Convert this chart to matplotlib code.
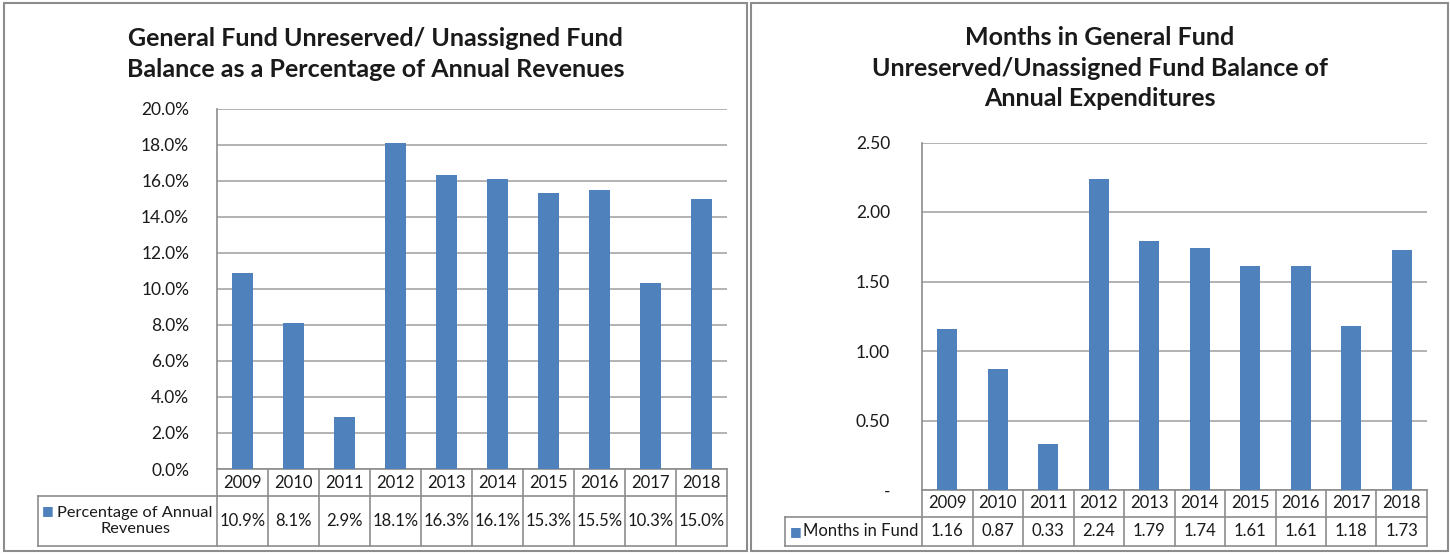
import matplotlib.pyplot as plt
import matplotlib.transforms as mtrans
from matplotlib.patches import Rectangle

years = ['2009', '2010', '2011', '2012', '2013', '2014', '2015', '2016', '2017', '2018']
pct_revenues = [10.9, 8.1, 2.9, 18.1, 16.3, 16.1, 15.3, 15.5, 10.3, 15.0]
months_in_fund = [1.16, 0.87, 0.33, 2.24, 1.79, 1.74, 1.61, 1.61, 1.18, 1.73]

BLUE = '#4f81bd'
GRID = '#a6a6a6'
EDGE = '#8c8c8c'
TXT = '#1a1a1a'
FONT = ['Lato', 'DejaVu Sans']

W, H = 1450, 554
plt.rcParams['font.family'] = FONT

fig = plt.figure(figsize=(W / 100, H / 100), dpi=100)


def px_axes(left, top, right, bottom):
    return fig.add_axes([left / W, 1 - bottom / H, (right - left) / W, (bottom - top) / H])


def draw_table(ax, labels, values, leg_left, ax_left, hdr_h, row_h, ax_h):
    tr = mtrans.blended_transform_factory(ax.transData, ax.transAxes)
    h1 = hdr_h / ax_h
    h2 = row_h / ax_h
    n = len(labels)
    unit = (ax.get_xlim()[1] - ax.get_xlim()[0]) / ax.get_position().width / W
    x_leg = -0.5 - (ax_left - leg_left) * unit
    kw = dict(transform=tr, clip_on=False, color=EDGE, lw=1.2)
    # grid lines of the data table
    ax.plot([-0.5, n - 0.5], [0, 0], **kw)
    ax.plot([x_leg, n - 0.5], [-h1, -h1], **kw)
    ax.plot([x_leg, n - 0.5], [-h1 - h2, -h1 - h2], **kw)
    for i in range(n + 1):
        ax.plot([i - 0.5, i - 0.5], [0, -h1 - h2], **kw)
    ax.plot([x_leg, x_leg], [-h1, -h1 - h2], **kw)
    for i, (lab, val) in enumerate(zip(labels, values)):
        ax.text(i, -h1 / 2, lab, transform=tr, ha='center', va='center', fontsize=12, color=TXT)
        ax.text(i, -h1 - h2 / 2, val, transform=tr, ha='center', va='center', fontsize=12, color=TXT)
    return tr, x_leg, h1, h2, unit


# ---------------- left chart ----------------
ax1 = px_axes(217, 108.7, 727, 469)
ax1.bar(range(len(years)), pct_revenues, width=0.4, color=BLUE, zorder=3)
ax1.set_xlim(-0.5, len(years) - 0.5)
ax1.set_ylim(0, 20)
ax1.set_yticks(range(0, 21, 2))
ax1.set_yticklabels([f'{v:.1f}%' for v in range(0, 21, 2)])
ax1.yaxis.grid(True, color=GRID, lw=1.2)
ax1.set_xticks([])
for s in ['top', 'right', 'bottom']:
    ax1.spines[s].set_visible(False)
ax1.spines['left'].set_color(EDGE)
ax1.spines['left'].set_linewidth(1.2)
ax1.tick_params(axis='y', length=0, pad=20, labelsize=12.5, labelcolor=TXT)
tr, xl, h1, h2, u1 = draw_table(ax1, years, [f'{v:.1f}%' for v in pct_revenues],
                                38, 217, 27, 50, 469 - 108.7)
ax1.text(xl + 97 * u1, -h1 - h2 / 2, 'Percentage of Annual\nRevenues', transform=tr,
         ha='center', va='center', fontsize=11.8, color=TXT, linespacing=1.2)
ax1.text(xl + 4 * u1, -h1 - h2 * 0.3, '■', transform=tr, ha='left', va='center',
         fontsize=9, color=BLUE, family='DejaVu Sans')

fig.text(375.5 / W, 1 - 54 / H, 'General Fund Unreserved/ Unassigned Fund\nBalance as a Percentage of Annual Revenues',
         ha='center', va='center', fontsize=18, fontweight='bold', color=TXT, linespacing=1.42)

# ---------------- right chart ----------------
ax2 = px_axes(922, 142.5, 1427, 490)
ax2.bar(range(len(years)), months_in_fund, width=0.4, color=BLUE, zorder=3)
ax2.set_xlim(-0.5, len(years) - 0.5)
ax2.set_ylim(0, 2.5)
ticks2 = [0, 0.5, 1.0, 1.5, 2.0, 2.5]
ax2.set_yticks(ticks2)
ax2.set_yticklabels(['-' if t == 0 else f'{t:.2f}' for t in ticks2])
ax2.yaxis.grid(True, color=GRID, lw=1.2)
ax2.set_xticks([])
for s in ['top', 'right', 'bottom']:
    ax2.spines[s].set_visible(False)
ax2.spines['left'].set_color(EDGE)
ax2.spines['left'].set_linewidth(1.2)
ax2.tick_params(axis='y', length=0, pad=23, labelsize=12.5, labelcolor=TXT)
tr2, xl2, g1, g2, u2 = draw_table(ax2, years, [f'{v:.2f}' for v in months_in_fund],
                                  785, 922, 27, 29, 490 - 142.5)
ax2.text(xl2 + 5 * u2, -g1 - g2 / 2, '■', transform=tr2, ha='left', va='center',
         fontsize=9, color=BLUE, family='DejaVu Sans')
ax2.text(xl2 + 18 * u2, -g1 - g2 / 2, 'Months in Fund', transform=tr2, ha='left', va='center',
         fontsize=12, color=TXT)

fig.text(1099.5 / W, 1 - 68 / H, 'Months in General Fund\nUnreserved/Unassigned Fund Balance of\nAnnual Expenditures',
         ha='center', va='center', fontsize=18, fontweight='bold', color=TXT, linespacing=1.42)

# panel borders
for x0, x1 in [(4, 747), (751, 1448)]:
    fig.patches.append(Rectangle((x0 / W, 1 - 551 / H), (x1 - x0) / W, 548 / H,
                                 transform=fig.transFigure, fill=False, edgecolor=EDGE, lw=1.5))

fig.savefig('out.png', dpi=100)
